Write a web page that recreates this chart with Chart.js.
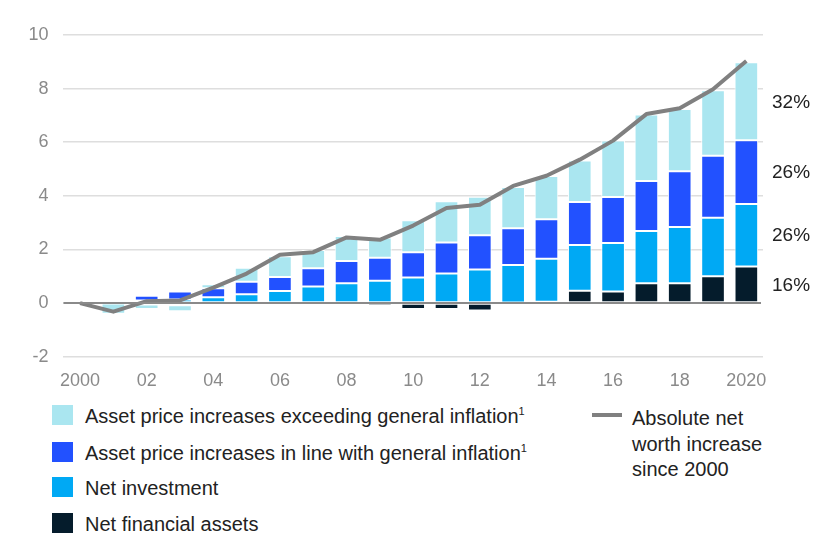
<!DOCTYPE html>
<html>
<head>
<meta charset="utf-8">
<script src="https://cdn.jsdelivr.net/npm/chart.js@4.4.1/dist/chart.umd.min.js"></script>
<style>
  html, body { margin: 0; padding: 0; background: #fff; }
  body { width: 825px; height: 535px; position: relative; overflow: hidden; font-family: "Liberation Sans", Arial, sans-serif; }
  #wrap { position: absolute; left: 0; top: 0; width: 825px; height: 395px; }
  .leg { position: absolute; font-size: 20px; color: #222; white-space: nowrap; line-height: 20px; }
  .sw { position: absolute; width: 21px; height: 20px; }
  sup { font-size: 11px; vertical-align: 0; position: relative; top: -8px; }
</style>
</head>
<body>
<div id="wrap"><canvas id="c" width="825" height="395"></canvas></div>

<div class="sw" style="left:52px;top:405px;background:#AAE6F0"></div>
<div class="leg" style="left:85px;top:406px">Asset price increases exceeding general inflation<sup>1</sup></div>
<div class="sw" style="left:52px;top:442px;background:#2251FF"></div>
<div class="leg" style="left:85px;top:443px">Asset price increases in line with general inflation<sup>1</sup></div>
<div class="sw" style="left:52px;top:477px;background:#00A9F4"></div>
<div class="leg" style="left:85px;top:478px">Net investment</div>
<div class="sw" style="left:52px;top:513px;background:#051C2C"></div>
<div class="leg" style="left:85px;top:514px">Net financial assets</div>

<div style="position:absolute;left:592px;top:413px;width:30px;height:4px;background:#808080"></div>
<div class="leg" style="left:632px;top:406px;line-height:25.5px">Absolute net<br>worth increase<br>since 2000</div>

<script>
const years = ['2000','2001','2002','2003','2004','2005','2006','2007','2008','2009','2010','2011','2012','2013','2014','2015','2016','2017','2018','2019','2020'];
const tickLabels = ['2000','02','04','06','08','10','12','14','16','18','2020'];
const netFinancial    = [null,-0.02,-0.05,-0.08,-0.03,-0.03,0.00,-0.10,-0.02,-0.11,-0.22,-0.22,-0.28,0.02,0.05,0.46,0.43,0.74,0.74,1.00,1.36];
const netInvestment   = [null,0.03,0.10,0.13,0.22,0.33,0.45,0.62,0.74,0.83,0.95,1.10,1.25,1.40,1.60,1.71,1.81,1.95,2.10,2.18,2.34];
const inflationInLine = [null,0.08,0.17,0.30,0.33,0.47,0.52,0.68,0.83,0.86,0.95,1.16,1.28,1.37,1.48,1.60,1.72,1.86,2.08,2.32,2.37];
const aboveInflation  = [null,-0.38,-0.17,-0.22,0.15,0.52,0.78,0.68,0.93,0.76,1.19,1.54,1.44,1.54,1.61,1.55,2.10,2.48,2.32,2.44,2.91];
const netWorth        = [0,-0.32,0.07,0.10,0.58,1.10,1.80,1.90,2.45,2.36,2.89,3.55,3.67,4.37,4.75,5.35,6.06,7.05,7.27,7.98,9.03];
const shareLabels     = ['16%','26%','26%','32%']; // net financial, net investment, in line, exceeding (2020)

const barCommon = { type: 'bar', stack: 'bars', order: 1, borderColor: '#ffffff', borderWidth: 1, borderSkipped: false, barPercentage: 0.71, categoryPercentage: 1.0 };

const overlayPlugin = {
  id: 'overlay',
  afterDatasetsDraw(chart) {
    const ctx = chart.ctx;
    const ys = chart.scales.y;
    const a = chart.chartArea;
    ctx.save();
    // zero line over the bars
    const y0 = Math.round(ys.getPixelForValue(0));
    ctx.strokeStyle = '#8a8a8a';
    ctx.lineWidth = 2.2;
    ctx.beginPath();
    ctx.moveTo(a.left, y0);
    ctx.lineTo(a.right - 2, y0);
    ctx.stroke();
    // share labels at right
    ctx.font = '19px "Liberation Sans", Arial, sans-serif';
    ctx.fillStyle = '#222';
    ctx.textBaseline = 'middle';
    ctx.textAlign = 'left';
    for (let i = 0; i < 4; i++) {
      const meta = chart.getDatasetMeta(i);
      const el = meta.data[meta.data.length - 1];
      const y = (el.y + el.base) / 2;
      ctx.fillText(shareLabels[i], a.right + 9, y + 1);
    }
    ctx.restore();
  }
};

new Chart(document.getElementById('c'), {
  data: {
    labels: years,
    datasets: [
      Object.assign({ label: 'Net financial assets', data: netFinancial, backgroundColor: '#051C2C' }, barCommon),
      Object.assign({ label: 'Net investment', data: netInvestment, backgroundColor: '#00A9F4' }, barCommon),
      Object.assign({ label: 'Asset price increases in line with general inflation', data: inflationInLine, backgroundColor: '#2251FF' }, barCommon),
      Object.assign({ label: 'Asset price increases exceeding general inflation', data: aboveInflation, backgroundColor: '#AAE6F0' }, barCommon),
      { type: 'line', label: 'Absolute net worth increase since 2000', data: netWorth, stack: 'line', order: 0,
        borderColor: '#808080', borderWidth: 4, pointRadius: 0, tension: 0, fill: false, borderJoinStyle: 'round' }
    ]
  },
  options: {
    responsive: false,
    animation: false,
    layout: { padding: { left: 0, right: 62, top: 35, bottom: 0 } },
    plugins: { legend: { display: false }, tooltip: { enabled: false } },
    scales: {
      x: {
        stacked: true,
        grid: { display: false },
        border: { display: false },
        ticks: {
          autoSkip: false, maxRotation: 0, padding: 6,
          color: '#8a8a8a', font: { size: 18, family: '"Liberation Sans", Arial, sans-serif' },
          callback: (v, i) => (i % 2 === 0 ? tickLabels[i / 2] : '')
        },
        afterFit: (s) => { s.height = 38.3; }
      },
      y: {
        stacked: true,
        min: -2, max: 10,
        grid: {
          drawTicks: false,
          color: (c) => (c.tick && c.tick.value === 0 ? 'rgba(0,0,0,0)' : '#dedede'),
          lineWidth: 1.5
        },
        border: { display: false },
        ticks: { stepSize: 2, padding: 15, color: '#8a8a8a', font: { size: 18, family: '"Liberation Sans", Arial, sans-serif' } },
        afterFit: (s) => { s.width = 63.4; }
      }
    }
  },
  plugins: [overlayPlugin]
});
</script>
</body>
</html>
